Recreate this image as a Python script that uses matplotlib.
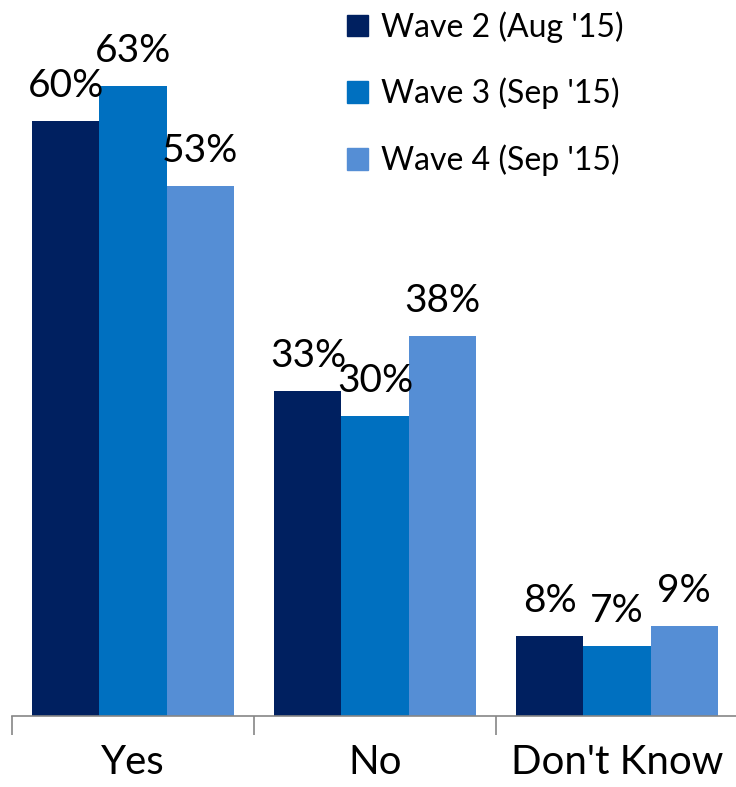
import matplotlib
matplotlib.use("Agg")
import matplotlib.pyplot as plt
import numpy as np
from matplotlib.patches import Patch

categories = ["Yes", "No", "Don't Know"]
series_names = ["Wave 2 (Aug '15)", "Wave 3 (Sep '15)", "Wave 4 (Sep '15)"]
wave2 = [59.5, 32.5, 8]
wave3 = [63, 30, 7]
wave4 = [53, 38, 9]
colors = ["#002060", "#0070C0", "#558ED5"]

plt.rcParams['font.family'] = ['Lato', 'DejaVu Sans']

fig = plt.figure(figsize=(7.36, 7.87), dpi=100)
ax = fig.add_axes([12 / 736, 71 / 787, 726 / 736, 700 / 787])

x = np.arange(len(categories))
width = 0.277
for i, vals in enumerate([wave2, wave3, wave4]):
    pos = x + (i - 1) * width
    bars = ax.bar(pos, vals, width, color=colors[i], label=series_names[i])
    for b, v in zip(bars, vals):
        ax.annotate(f"{int(v + 0.5)}%", (b.get_x() + b.get_width() / 2, v),
                    xytext=(0, 12), textcoords="offset points",
                    ha="center", va="bottom", fontsize=28)

ax.set_xlim(-0.5, 2.5)
ax.set_ylim(0, 70)
ax.set_yticks([])
for s in ["top", "right", "left"]:
    ax.spines[s].set_visible(False)
ax.spines["bottom"].set_color("#868686")
ax.spines["bottom"].set_linewidth(1.2)

ax.set_xticks(x)
ax.set_xticklabels(categories, fontsize=29)
ax.tick_params(axis="x", which="major", length=0, pad=20)
ax.set_xticks([-0.5, 0.5, 1.5, 2.5], minor=True)
ax.tick_params(axis="x", which="minor", length=14, color="#868686", width=1.2)

handles = [Patch(color=c) for c in colors]
ax.legend(handles, series_names, loc="upper left", bbox_to_anchor=(0.44, 1.03),
          frameon=False, fontsize=23, handlelength=0.65, handleheight=0.65,
          handletextpad=0.4, labelspacing=1.1, borderpad=0)

fig.savefig("out.png", dpi=100)
